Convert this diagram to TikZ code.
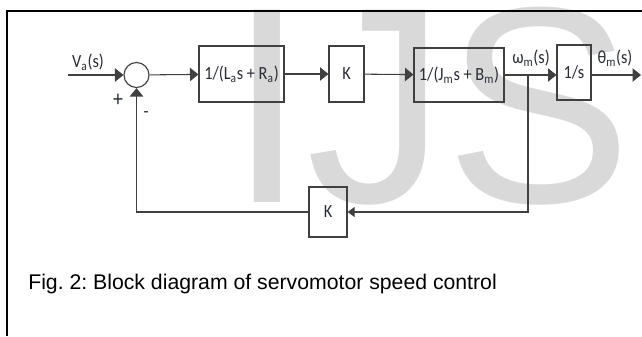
\documentclass[tikz,border=0pt]{standalone}
\usepackage{fontspec}
\setmainfont{Liberation Sans}
\newfontfamily\blockfont[FakeStretch=0.88]{Carlito}
\usetikzlibrary{arrows.meta}
\definecolor{wire}{RGB}{64,64,64}
\definecolor{ink}{RGB}{40,44,56}
\definecolor{wmgray}{RGB}{217,217,217}
\frenchspacing

\begin{document}
\begin{tikzpicture}[x=0.025cm, y=-0.025cm,
  block/.style={draw=wire, line width=0.8pt, inner sep=0pt, minimum height=1.4cm,
    text=ink, font=\blockfont\fontsize{13.2}{14}\selectfont},
  lbl/.style={text=ink, inner sep=0pt, font=\blockfont\fontsize{13.2}{14}\selectfont},
  sig/.style={draw=wire, line width=0.75pt, -{Triangle[length=6pt,width=9.5pt]}},
  fb/.style={draw=wire, line width=0.75pt, -{Triangle[length=5pt,width=7pt]}}]
\useasboundingbox (0,0) rectangle (642,336);
% watermark and frame
\node[anchor=base west, inner sep=0pt, text=wmgray, font=\fontsize{199}{199}\selectfont] (logo) at (228,202) {IJS};
\draw[line width=1.3pt] (7,336) -- (7,11) -- (642,11);
% forward path
\coordinate (in) at (68,75);
\node[circle, draw=wire, line width=0.8pt, minimum size=0.625cm, inner sep=0pt] (sum) at (136.5,75) {};
\node[block, minimum width=2.125cm] (armature) at (241.5,74) {1/(L\textsubscript{a}s + R\textsubscript{a})};
\node[block, minimum width=0.875cm] (torque) at (346.5,74) {K};
\node[block, minimum width=2.25cm, minimum height=1.35cm] (load) at (459,75) {1/(J\textsubscript{m}s + B\textsubscript{m})};
\node[block, minimum width=0.85cm, minimum height=1.375cm] (integ) at (574,72.5) {1/s};
\coordinate (branch) at (528,75);
\coordinate (out) at (641,75);
% feedback path
\node[block, minimum width=0.95cm, minimum height=1.25cm] (backemf) at (328,212) {K};
\draw[sig] (in) -- (sum);
\draw[sig] (sum) -- (armature);
\draw[sig] (armature) -- (torque);
\draw[sig] (torque) -- (load);
\draw[sig] (load.east |- branch) -- (integ.west |- branch);
\draw[sig] (integ.east |- out) -- (out);
\draw[fb] (branch) |- (backemf);
\draw[sig] (backemf) -| (sum);
% signal labels
\node[lbl] (va) at (88,62) {V\textsubscript{a}(s)};
\node[lbl, font=\blockfont\fontsize{16}{16}\selectfont] (plus) at (118,100) {+};
\node[lbl] (minus) at (146,115) {-};
\node[lbl] (speed) at (531,58) {ω\textsubscript{m}(s)};
\node[lbl] (angle) at (615,58) {θ\textsubscript{m}(s)};
\node[anchor=base west, inner sep=0pt, font=\fontsize{15.1}{18}\selectfont] (caption) at (28,289) {Fig. 2: Block diagram of servomotor speed control};
\end{tikzpicture}
\end{document}
